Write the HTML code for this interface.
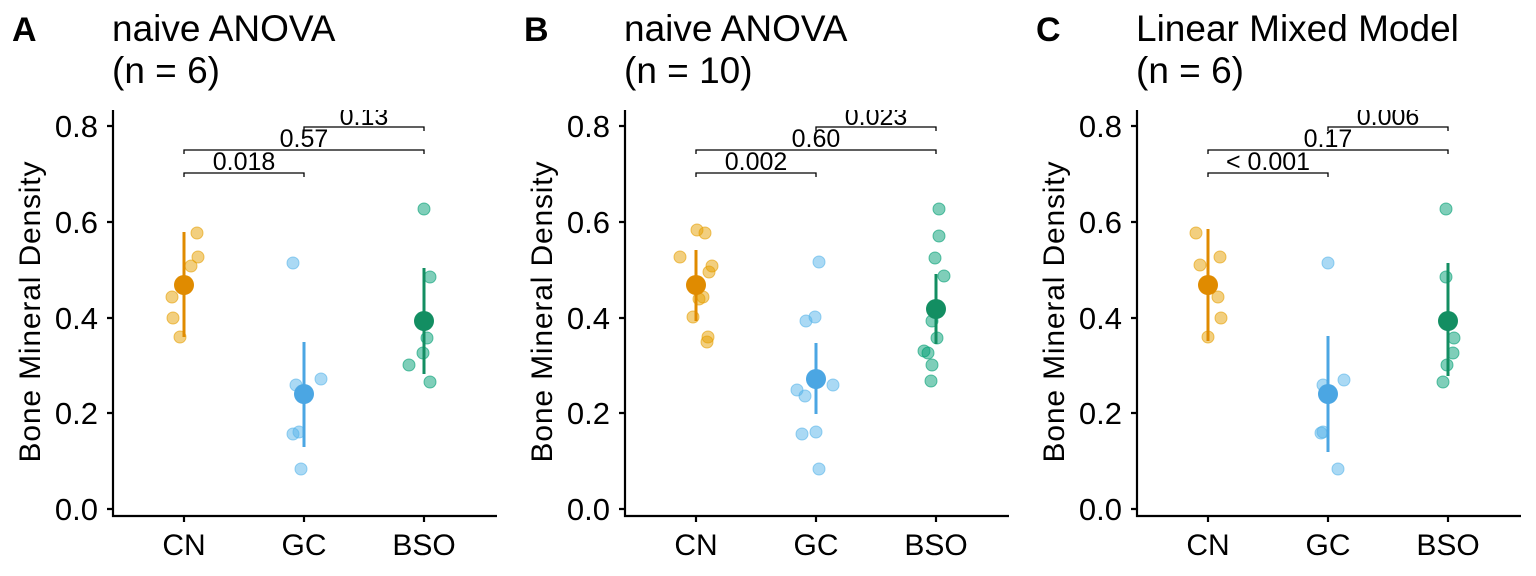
<!DOCTYPE html>
<html><head><style>body{margin:0;background:#fff}svg{display:block}text{font-family:"Liberation Sans",sans-serif;fill:#000}</style></head><body>
<svg width="1536" height="576" xmlns="http://www.w3.org/2000/svg">
<defs>
<clipPath id="c0"><rect x="113" y="110" width="390" height="410"/></clipPath>
<clipPath id="c1"><rect x="625" y="110" width="390" height="410"/></clipPath>
<clipPath id="c2"><rect x="1137" y="110" width="390" height="410"/></clipPath>
</defs>
<g font-size="37">
<text x="12" y="41" font-weight="bold" font-size="34">A</text><text x="112" y="41">naive ANOVA</text><text x="112" y="83">(n = 6)</text>
<text x="524" y="41" font-weight="bold" font-size="34">B</text><text x="624" y="41">naive ANOVA</text><text x="624" y="83">(n = 10)</text>
<text x="1036" y="41" font-weight="bold" font-size="34">C</text><text x="1136" y="41">Linear Mixed Model</text><text x="1136" y="83">(n = 6)</text>
</g>
<g id="ax0">
<g stroke="#000" stroke-width="2.2" fill="none">
<path d="M113,110V516H497"/>
<path d="M107,126H113M107,222H113M107,318H113M107,413H113M107,509H113M184,516V522M304,516V522M424,516V522"/>
</g>
<g font-size="31" text-anchor="end"><text x="98" y="137">0.8</text><text x="98" y="233">0.6</text><text x="98" y="329">0.4</text><text x="98" y="424">0.2</text><text x="98" y="520">0.0</text></g>
<g font-size="30" text-anchor="middle"><text x="184" y="555">CN</text><text x="304" y="555">GC</text><text x="424" y="555">BSO</text></g>
<text transform="translate(40,312) rotate(-90)" font-size="30" text-anchor="middle" textLength="301">Bone Mineral Density</text>
</g>
<use href="#ax0" x="512"/><use href="#ax0" x="1024"/>
<!-- panel A -->
<g clip-path="url(#c0)">
<g stroke="#000" stroke-width="1.3" fill="none"><path d="M184,177V173H304V177"/><path d="M184,154V150H424V154"/><path d="M304,131V127H424V131"/></g>
<g font-size="25" text-anchor="middle"><text x="244" y="170">0.018</text><text x="304" y="147">0.57</text><text x="364" y="125">0.13</text></g>
</g>
<g fill="#E69F00" fill-opacity="0.5" stroke="#E69F00" stroke-opacity="0.6">
<circle cx="197" cy="233" r="6"/><circle cx="198" cy="257" r="6"/><circle cx="191" cy="266" r="6"/><circle cx="172" cy="297" r="6"/><circle cx="173" cy="318" r="6"/><circle cx="180" cy="337" r="6"/></g>
<g fill="#56B4E9" fill-opacity="0.5" stroke="#56B4E9" stroke-opacity="0.6">
<circle cx="293" cy="263" r="6"/><circle cx="296" cy="385" r="6"/><circle cx="321" cy="379" r="6"/><circle cx="293" cy="434" r="6"/><circle cx="299" cy="432" r="6"/><circle cx="301" cy="469" r="6"/></g>
<g fill="#009E73" fill-opacity="0.5" stroke="#009E73" stroke-opacity="0.6">
<circle cx="424" cy="209" r="6"/><circle cx="430" cy="277" r="6"/><circle cx="427" cy="338" r="6"/><circle cx="423" cy="353" r="6"/><circle cx="409" cy="365" r="6"/><circle cx="430" cy="382" r="6"/></g>
<path d="M184,232V337" stroke="#E08B00" stroke-width="3"/><circle cx="184" cy="285" r="10" fill="#E08B00"/>
<path d="M304,342V447" stroke="#4BA6E3" stroke-width="3"/><circle cx="304" cy="394" r="10" fill="#4BA6E3"/>
<path d="M424,268V374" stroke="#138E62" stroke-width="3"/><circle cx="424" cy="321" r="10" fill="#138E62"/>
<!-- panel B -->
<g clip-path="url(#c1)">
<g stroke="#000" stroke-width="1.3" fill="none"><path d="M696,177V173H816V177"/><path d="M696,154V150H936V154"/><path d="M816,131V127H936V131"/></g>
<g font-size="25" text-anchor="middle"><text x="756" y="170">0.002</text><text x="816" y="147">0.60</text><text x="876" y="125">0.023</text></g>
</g>
<g fill="#E69F00" fill-opacity="0.5" stroke="#E69F00" stroke-opacity="0.6">
<circle cx="697" cy="230" r="6"/><circle cx="705" cy="233" r="6"/><circle cx="680" cy="257" r="6"/><circle cx="712" cy="266" r="6"/><circle cx="709" cy="272" r="6"/><circle cx="703" cy="297" r="6"/><circle cx="699" cy="299" r="6"/><circle cx="693" cy="317" r="6"/><circle cx="708" cy="337" r="6"/><circle cx="707" cy="342" r="6"/></g>
<g fill="#56B4E9" fill-opacity="0.5" stroke="#56B4E9" stroke-opacity="0.6">
<circle cx="819" cy="262" r="6"/><circle cx="806" cy="321" r="6"/><circle cx="815" cy="317" r="6"/><circle cx="797" cy="390" r="6"/><circle cx="805" cy="396" r="6"/><circle cx="833" cy="385" r="6"/><circle cx="802" cy="434" r="6"/><circle cx="816" cy="432" r="6"/><circle cx="819" cy="469" r="6"/></g>
<g fill="#009E73" fill-opacity="0.5" stroke="#009E73" stroke-opacity="0.6">
<circle cx="939" cy="209" r="6"/><circle cx="939" cy="236" r="6"/><circle cx="935" cy="258" r="6"/><circle cx="944" cy="276" r="6"/><circle cx="932" cy="321" r="6"/><circle cx="937" cy="338" r="6"/><circle cx="924" cy="351" r="6"/><circle cx="928" cy="353" r="6"/><circle cx="932" cy="365" r="6"/><circle cx="931" cy="381" r="6"/></g>
<path d="M696,250V321" stroke="#E08B00" stroke-width="3"/><circle cx="696" cy="285" r="10" fill="#E08B00"/>
<path d="M816,343V414" stroke="#4BA6E3" stroke-width="3"/><circle cx="816" cy="379" r="10" fill="#4BA6E3"/>
<path d="M936,274V344" stroke="#138E62" stroke-width="3"/><circle cx="936" cy="309" r="10" fill="#138E62"/>
<!-- panel C -->
<g clip-path="url(#c2)">
<g stroke="#000" stroke-width="1.3" fill="none"><path d="M1208,177V173H1328V177"/><path d="M1208,154V150H1448V154"/><path d="M1328,131V127H1448V131"/></g>
<g font-size="25" text-anchor="middle"><text x="1268" y="170">&lt; 0.001</text><text x="1328" y="147">0.17</text><text x="1388" y="125">0.006</text></g>
</g>
<g fill="#E69F00" fill-opacity="0.5" stroke="#E69F00" stroke-opacity="0.6">
<circle cx="1196" cy="233" r="6"/><circle cx="1200" cy="265" r="6"/><circle cx="1220" cy="257" r="6"/><circle cx="1218" cy="297" r="6"/><circle cx="1221" cy="318" r="6"/><circle cx="1208" cy="337" r="6"/></g>
<g fill="#56B4E9" fill-opacity="0.5" stroke="#56B4E9" stroke-opacity="0.6">
<circle cx="1328" cy="263" r="6"/><circle cx="1323" cy="385" r="6"/><circle cx="1344" cy="380" r="6"/><circle cx="1321" cy="433" r="6"/><circle cx="1323" cy="432" r="6"/><circle cx="1338" cy="469" r="6"/></g>
<g fill="#009E73" fill-opacity="0.5" stroke="#009E73" stroke-opacity="0.6">
<circle cx="1446" cy="209" r="6"/><circle cx="1446" cy="277" r="6"/><circle cx="1454" cy="338" r="6"/><circle cx="1453" cy="353" r="6"/><circle cx="1447" cy="365" r="6"/><circle cx="1443" cy="382" r="6"/></g>
<path d="M1208,229V341" stroke="#E08B00" stroke-width="3"/><circle cx="1208" cy="285" r="10" fill="#E08B00"/>
<path d="M1328,336V452" stroke="#4BA6E3" stroke-width="3"/><circle cx="1328" cy="394" r="10" fill="#4BA6E3"/>
<path d="M1448,263V376" stroke="#138E62" stroke-width="3"/><circle cx="1448" cy="321" r="10" fill="#138E62"/>
</svg>
</body></html>
